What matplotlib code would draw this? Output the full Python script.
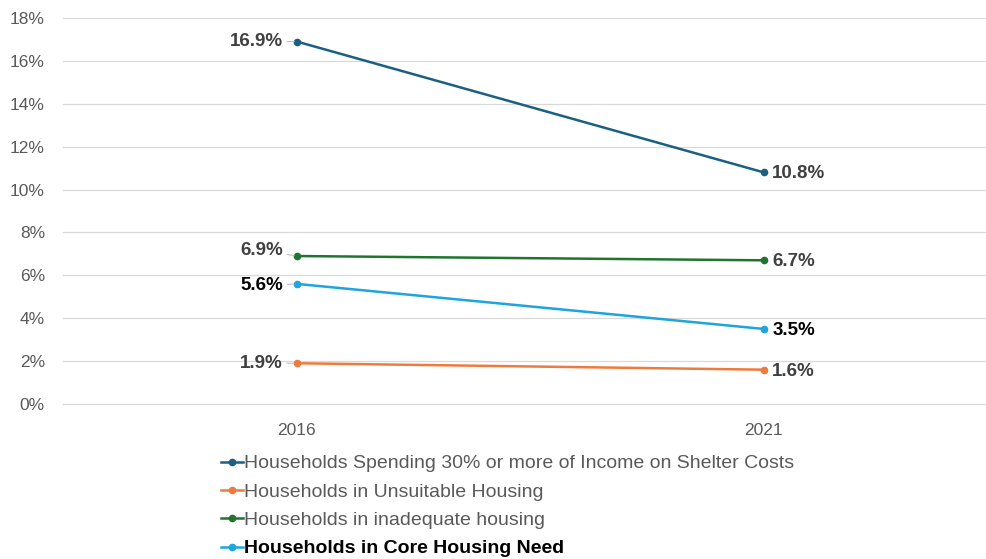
import matplotlib
matplotlib.use("Agg")
import matplotlib.pyplot as plt
from matplotlib.ticker import FuncFormatter

plt.rcParams['font.family'] = ['Liberation Sans', 'DejaVu Sans']

years = ["2016", "2021"]
spending_30 = [16.9, 10.8]
unsuitable = [1.9, 1.6]
inadequate = [6.9, 6.7]
core_need = [5.6, 3.5]

series = [
    ("Households Spending 30% or more of Income on Shelter Costs", spending_30, "#1b5f82", "#404040", "normal"),
    ("Households in Unsuitable Housing", unsuitable, "#ee7b3d", "#404040", "normal"),
    ("Households in inadequate housing", inadequate, "#21742f", "#404040", "normal"),
    ("Households in Core Housing Need", core_need, "#1ea4de", "#000000", "bold"),
]

fig = plt.figure(figsize=(9.87, 5.59), dpi=100)
ax = fig.add_axes([63 / 987, 1 - 404 / 559, 924 / 987, 386 / 559])

x = list(range(len(years)))
handles = []
for name, vals, color, lblcolor, weight in series:
    h, = ax.plot(x, vals, color=color, lw=1.8, marker="o", markersize=4.5,
                 label=name, zorder=3)
    handles.append(h)

# left-side labels with short leader lines
left_offsets = {
    "Households Spending 30% or more of Income on Shelter Costs": (-10, 0),
    "Households in Unsuitable Housing": (-10, 0),
    "Households in inadequate housing": (-10, 4),
    "Households in Core Housing Need": (-10, -1),
}
for name, vals, color, lblcolor, weight in series:
    dx, dy = left_offsets[name]
    ax.annotate(f"{vals[0]:.1f}%", xy=(0, vals[0]), xytext=(dx, dy),
                textcoords="offset points", ha="right", va="center",
                fontsize=13.5, fontweight="bold", color=lblcolor,
                arrowprops=dict(arrowstyle="-", color="#bfbfbf", lw=0.8,
                                shrinkA=1, shrinkB=2),
                zorder=4)
    ax.annotate(f"{vals[1]:.1f}%", xy=(1, vals[1]), xytext=(6, -1),
                textcoords="offset points", ha="left", va="center",
                fontsize=13.5, fontweight="bold", color=lblcolor, zorder=4)

ax.set_xlim(-0.501, 1.478)
ax.set_ylim(0, 18)
ax.set_yticks(range(0, 19, 2))
ax.yaxis.set_major_formatter(FuncFormatter(lambda v, p: f"{v:.0f}%"))
ax.set_xticks(x)
ax.set_xticklabels(years)
ax.grid(axis="y", color="#d9d9d9", lw=0.9, zorder=0)
for gl in ax.get_ygridlines():
    gl.set_clip_on(False)
ax.set_axisbelow(True)
for s in ax.spines.values():
    s.set_visible(False)
ax.tick_params(axis="both", length=0, labelsize=12.5, colors="#595959")
ax.tick_params(axis="y", pad=13)
ax.tick_params(axis="x", pad=14)

leg = fig.legend(handles=handles, loc="upper left",
                 bbox_to_anchor=(213 / 987, 1 - 447 / 559),
                 frameon=False, fontsize=14, handlelength=1.15,
                 handletextpad=0.05, labelspacing=0.55, borderaxespad=0)
for t, (name, vals, color, lblcolor, weight) in zip(leg.get_texts(), series):
    t.set_color("#595959" if weight == "normal" else "#000000")
    t.set_fontweight(weight)

fig.savefig("out.png", dpi=100)
